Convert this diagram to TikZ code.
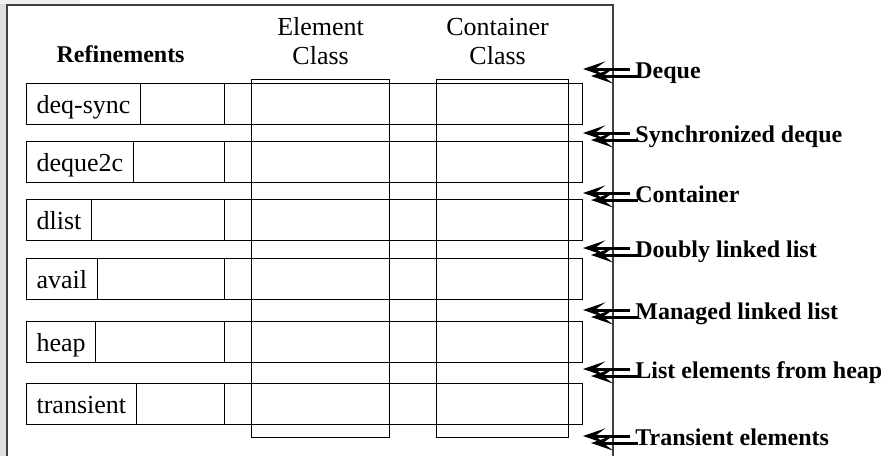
\documentclass[tikz,border=0pt]{standalone}
\usepackage{fontspec}
\newfontfamily\notefont{Liberation Serif}
\usetikzlibrary{arrows.meta,positioning}

\begin{document}
\begin{tikzpicture}[
    x=0.5pt, y=-0.5pt,
    rowbox/.style={draw, line width=0.6pt, minimum height=20.5pt, inner sep=0pt, anchor=north west},
    refname/.style={draw, line width=0.6pt, minimum height=20.5pt, inner sep=0pt, inner xsep=5pt, text height=10.5pt, text depth=1.5pt, anchor=west, font=\notefont\fontsize{13}{14.5}\selectfont},
    classcol/.style={draw, line width=0.6pt, inner sep=0pt, minimum height=179pt, anchor=north west},
    heading/.style={font=\notefont\fontsize{13}{14.5}\selectfont, align=center, inner sep=0pt},
    boldhead/.style={font=\notefont\bfseries\fontsize{12}{14}\selectfont, inner sep=0pt},
    note/.style={boldhead, anchor=base west},
    pointer/.style={-{Stealth[length=11pt,width=7.5pt,inset=5pt]}, line width=1.5pt}
]
\useasboundingbox (0,0) rectangle (881,456);

% Frame
\fill[gray!25] (0,0) rectangle (5.5,456);
\fill[gray!12] (0,0) rectangle (80,4);
\draw[line width=1pt, black!75] (6.5,456) -- (6.5,4.5) -- (613,4.5) -- (613,456);

% Refinement layers
\foreach \lname/\top [count=\i] in {deq-sync/83, deque2c/141, dlist/199, avail/258, heap/321, transient/383} {
  \node[rowbox, minimum width=99pt] (layer\i) at (26,\top) {};
  \node[rowbox, minimum width=179pt] (bar\i) at (224,\top) {};
  \node[refname] (ref\i) at (layer\i.west) {\lname};
}

% Class columns
\node[classcol, minimum width=69pt] (elem) at (251,79) {};
\node[classcol, minimum width=66pt] (cont) at (436,79) {};

% Headings
\node[boldhead, above=10pt of layer1, xshift=-2.5pt] (refhead) {Refinements};
\node[heading, above=7pt of elem] (elemhead) {Element\\Class};
\node[heading, above=7pt of cont, xshift=-2.5pt] (conthead) {Container\\Class};

% Descriptions
\foreach \desc/\y [count=\j] in {Deque/78, Synchronized deque/142, Container/202, Doubly linked list/257, Managed linked list/319, List elements from heap/378, Transient elements/445} {
  \node[note] (desc\j) at (635,\y) {\desc};
  \coordinate (upper\j) at ([shift={(-26pt,4.5pt)}]desc\j.base west);
  \coordinate (lower\j) at ([shift={(-22pt,1pt)}]desc\j.base west);
  \draw[pointer] ([shift={(-2.5pt,4.5pt)}]desc\j.base west) -- (upper\j);
  \draw[pointer] ([shift={(1.5pt,1pt)}]desc\j.base west) -- (lower\j);
}
\end{tikzpicture}
\end{document}
